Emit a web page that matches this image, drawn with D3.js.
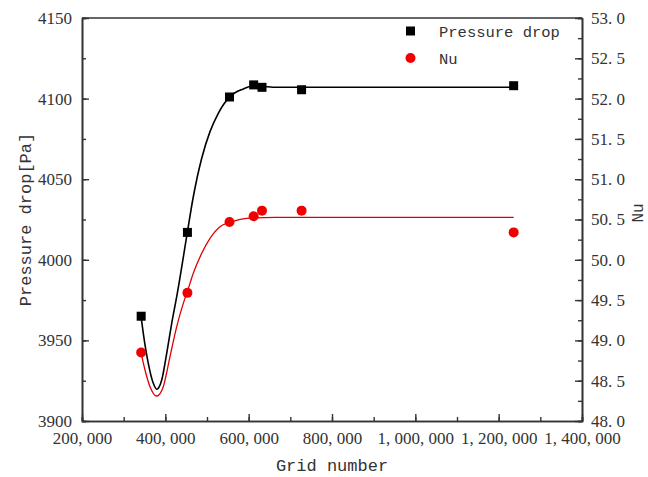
<!DOCTYPE html>
<html><head><meta charset="utf-8">
<script src="https://cdn.jsdelivr.net/npm/d3@7"></script>
<style>html,body{margin:0;padding:0;background:#fff;}svg{display:block;}</style>
</head><body>
<svg id="c" width="648" height="477"></svg>
<script>
// Measured points
const gridNumber = [342000, 453000, 554000, 612000, 632000, 727000, 1236000];
const pressureDrop = [3965, 4017, 4101, 4108.5, 4107, 4105.5, 4108];
const nuValues = [48.85, 49.59, 50.47, 50.54, 50.61, 50.61, 50.34];

// Fitted curves
const pressureFitX = [341600, 347100, 359100, 371100, 379300, 391300, 403300, 415300, 427300, 452700, 465700, 487300, 507200, 527100, 555200, 587100, 611100, 663200, 1236000];
const pressureFitY = [3965.1, 3954.4, 3935.8, 3923.4, 3919.7, 3925.4, 3942.0, 3960.6, 3977.1, 4016.8, 4037.1, 4063.0, 4079.5, 4090.9, 4101.2, 4106.0, 4108.0, 4107.0, 4107.0];
const nuFitX = [341600, 351200, 363200, 379300, 395100, 411200, 427300, 443100, 452700, 467100, 487300, 507200, 531200, 555200, 595300, 663200, 1236000];
const nuFitY = [48.852, 48.633, 48.426, 48.310, 48.426, 48.798, 49.170, 49.460, 49.604, 49.833, 50.081, 50.267, 50.411, 50.465, 50.515, 50.527, 50.527];

const xTicks = [200000, 400000, 600000, 800000, 1000000, 1200000, 1400000];
const yLeftTicks = [3900, 3950, 4000, 4050, 4100, 4150];
const yRightTicks = [48.0, 48.5, 49.0, 49.5, 50.0, 50.5, 51.0, 51.5, 52.0, 52.5, 53.0];
const legendLabels = ["Pressure drop", "Nu"];
const xTitle = "Grid number";
const yLeftTitle = "Pressure drop[Pa]";
const yRightTitle = "Nu";

const L = 82, R = 582, T = 18, B = 421;
const svg = d3.select("#c");
const x = d3.scaleLinear().domain([200000, 1400000]).range([L, R]);
const yL = d3.scaleLinear().domain([3900, 4150]).range([B, T]);
const yR = d3.scaleLinear().domain([48, 53]).range([B, T]);

const serif = "'Liberation Serif','DejaVu Serif',serif";
const mono = "'Liberation Mono','DejaVu Sans Mono',monospace";
const axisColor = "#333";

// minor tick positions
const xMinor = d3.range(200000, 1400001, 100000);
const yLMinor = d3.range(3900, 4150.1, 25);
const yRMinor = d3.range(48, 53.01, 0.25);

function styleAxis(g){
  g.select(".domain").attr("stroke", axisColor).attr("stroke-width", 1.6);
  g.selectAll(".tick line").attr("stroke", axisColor).attr("stroke-width", 1.4);
  g.selectAll(".tick text").attr("fill", "#333").style("font-family", serif).style("font-size", "17px");
}

// bottom
svg.append("g").attr("transform", `translate(0,${B})`)
  .call(d3.axisBottom(x).tickValues(xMinor).tickSize(-4).tickFormat("")).call(styleAxis);
svg.append("g").attr("transform", `translate(0,${B})`)
  .call(d3.axisBottom(x).tickValues(xTicks).tickSizeInner(-7).tickSizeOuter(0).tickPadding(11)
    .tickFormat(d => d3.format(",")(d).replace(/,/g, ", "))).call(styleAxis);
// left
svg.append("g").attr("transform", `translate(${L},0)`)
  .call(d3.axisLeft(yL).tickValues(yLMinor).tickSize(-4).tickFormat("")).call(styleAxis);
svg.append("g").attr("transform", `translate(${L},0)`)
  .call(d3.axisLeft(yL).tickValues(yLeftTicks).tickSizeInner(-7).tickSizeOuter(0).tickPadding(10)
    .tickFormat(d3.format("d"))).call(styleAxis);
// right
svg.append("g").attr("transform", `translate(${R},0)`)
  .call(d3.axisRight(yR).tickValues(yRMinor).tickSize(-4).tickFormat("")).call(styleAxis);
svg.append("g").attr("transform", `translate(${R},0)`)
  .call(d3.axisRight(yR).tickValues(yRightTicks).tickSizeInner(-7).tickSizeOuter(0).tickPadding(9)
    .tickFormat(d => d3.format(".1f")(d).replace(".", ". "))).call(styleAxis);
// top frame
svg.append("line").attr("x1", L).attr("x2", R).attr("y1", T).attr("y2", T)
  .attr("stroke", axisColor).attr("stroke-width", 1.6);

// curves
const pLine = d3.line().x(d => x(d[0])).y(d => yL(d[1])).curve(d3.curveMonotoneX);
const nLine = d3.line().x(d => x(d[0])).y(d => yR(d[1])).curve(d3.curveMonotoneX);
svg.append("path").datum(d3.zip(pressureFitX, pressureFitY)).attr("d", pLine)
  .attr("fill", "none").attr("stroke", "#000").attr("stroke-width", 1.6);
svg.append("path").datum(d3.zip(nuFitX, nuFitY)).attr("d", nLine)
  .attr("fill", "none").attr("stroke", "#e00000").attr("stroke-width", 1.3);

// markers
const sq = 9;
svg.append("g").selectAll("rect").data(d3.zip(gridNumber, pressureDrop)).join("rect")
  .attr("x", d => x(d[0]) - sq/2).attr("y", d => yL(d[1]) - sq/2)
  .attr("width", sq).attr("height", sq).attr("fill", "#000");
svg.append("g").selectAll("circle").data(d3.zip(gridNumber, nuValues)).join("circle")
  .attr("cx", d => x(d[0])).attr("cy", d => yR(d[1])).attr("r", 5).attr("fill", "#f00000");

// legend
const lg = svg.append("g");
lg.append("rect").attr("x", 410.5 - 4.5).attr("y", 31 - 4.5).attr("width", 9).attr("height", 9).attr("fill", "#000");
lg.append("circle").attr("cx", 410.5).attr("cy", 58).attr("r", 5).attr("fill", "#f00000");
lg.selectAll("text").data(legendLabels).join("text")
  .attr("x", 439).attr("y", (d, i) => 37 + i * 27)
  .style("font-family", mono).style("font-size", "15.5px").attr("fill", "#333").text(d => d);

// titles
svg.append("text").attr("x", (L + R) / 2).attr("y", 471).attr("text-anchor", "middle")
  .style("font-family", mono).style("font-size", "17px").attr("fill", "#333").text(xTitle);
svg.append("text").attr("transform", `translate(31,${(T + B) / 2}) rotate(-90)`).attr("text-anchor", "middle")
  .style("font-family", mono).style("font-size", "17px").attr("fill", "#333").text(yLeftTitle);
svg.append("text").attr("transform", `translate(643,213) rotate(-90)`).attr("text-anchor", "middle")
  .style("font-family", mono).style("font-size", "16px").attr("fill", "#333").text(yRightTitle);
</script>
</body></html>
